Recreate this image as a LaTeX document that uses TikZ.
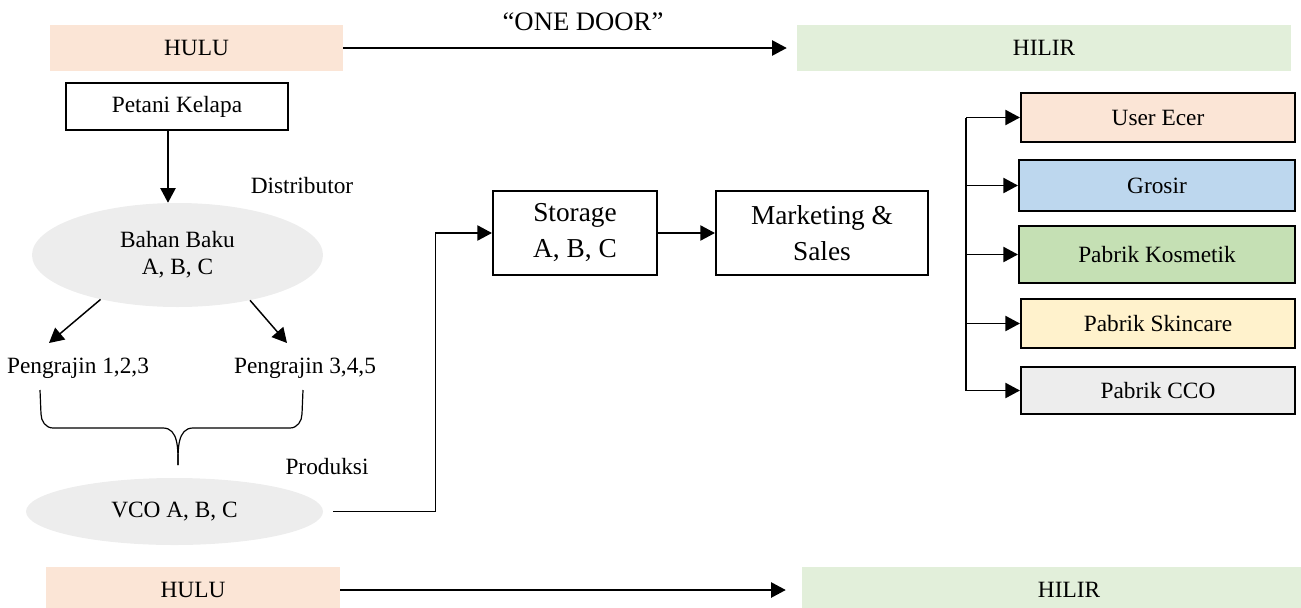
\documentclass[tikz,border=0pt]{standalone}
\usepackage{fontspec}
\setmainfont{Liberation Serif}
\usetikzlibrary{arrows.meta,shapes.geometric}

\definecolor{huluclr}{HTML}{FBE5D6}
\definecolor{hilirclr}{HTML}{E2EFDA}
\definecolor{grosirclr}{HTML}{BDD7EE}
\definecolor{kosmclr}{HTML}{C5E0B4}
\definecolor{skinclr}{HTML}{FFF2CC}
\definecolor{ovalclr}{HTML}{EDEDED}

\begin{document}
\begin{tikzpicture}[x=0.75pt,y=-0.75pt,
  font=\fontsize{17.5}{20}\selectfont,
  band/.style={rectangle,inner sep=0pt,minimum height=34.5pt},
  box/.style={draw,line width=1.6pt,align=center,inner sep=0pt},
  oval/.style={ellipse,fill=ovalclr,align=center,inner sep=0pt},
  bigtxt/.style={font=\fontsize{20.5}{27}\selectfont},
  ln/.style={line width=1.1pt},
  arr/.style={line width=1.1pt,-{Triangle[length=11pt,width=11.5pt]}}]

\useasboundingbox (0,0) rectangle (1301,607);

% bands
\node[band,fill=huluclr,minimum width=219.75pt] (huluA) at (196.5,48) {HULU};
\node[band,fill=hilirclr,minimum width=370.5pt] (hilirA) at (1044,48) {HILIR};
\node[band,fill=huluclr,minimum width=220.5pt] (huluB) at (193,590) {HULU};
\node[band,fill=hilirclr,minimum width=400.5pt] (hilirB) at (1069,590) {HILIR};
\node[font=\fontsize{20}{24}\selectfont] (onedoor) at (583,22) {``ONE DOOR''};

\draw[arr,shorten >=7.5pt] (huluA.east) -- (hilirA.west);
\draw[arr,shorten >=12pt] (huluB.east) -- (hilirB.west);

% hulu side
\node[box,minimum width=166.5pt,minimum height=35.25pt] (petani) at (177,106.5) {Petani Kelapa};
\node (distrib) at (302,186) {Distributor};
\node[oval,minimum width=218.25pt,minimum height=78pt] (bahan) at (177.5,255) {Bahan Baku\\A, B, C};
\node (peng1) at (78,368) {Pengrajin 1,2,3};
\node (peng2) at (305,368) {Pengrajin 3,4,5};
\node (produksi) at (327,467) {Produksi};
\node[oval,minimum width=222.75pt,minimum height=50.25pt] (vco) at (174.5,511.5) {VCO A, B, C};

\coordinate (p1) at (49,343);
\coordinate (p2) at (287,343);

\draw[arr] ([xshift=-6.75pt]petani.south) -- ([xshift=-6.75pt]petani.south |- bahan.north);
\draw[arr] (bahan.210) -- (p1);
\draw[arr] (bahan.328) -- (p2);

% brace
\draw[line width=0.9pt] (40,390) -- (41,414) to[out=-90,in=180] (53,428) -- (163,428)
  to[out=0,in=90] (178,465);
\draw[line width=0.9pt] (178,465) to[out=90,in=180] (193,428) -- (290,428)
  to[out=0,in=-90] (302,414) -- (303,390);

% middle
\node[box,bigtxt,minimum width=123pt,minimum height=63pt] (storage) at (575,233) {Storage\\A, B, C};
\node[box,bigtxt,minimum width=159pt,minimum height=63pt] (market) at (822,233) {Marketing \&\\Sales};

\draw[arr] ([xshift=7.5pt]vco.east) -- ++(102,0) |- (storage.west);
\draw[arr] (storage.east) -- (market.west);

% hilir side
\node[box,fill=huluclr,minimum width=205.5pt,minimum height=36.75pt] (ecer) at (1158,117.5) {User Ecer};
\node[box,fill=grosirclr,minimum width=207pt,minimum height=38.25pt] (grosir) at (1157,185.5) {Grosir};
\node[box,fill=kosmclr,minimum width=207pt,minimum height=42.75pt] (kosmetik) at (1157,254.5) {Pabrik Kosmetik};
\node[box,fill=skinclr,minimum width=205.5pt,minimum height=36.75pt] (skincare) at (1158,323.5) {Pabrik Skincare};
\node[box,fill=ovalclr,minimum width=205.5pt,minimum height=35.25pt] (cco) at (1158,390.5) {Pabrik CCO};

\coordinate (bus) at (966,118);
\draw[ln] (bus |- ecer.west) -- (bus |- cco.west);
\foreach \n in {ecer,grosir,kosmetik,skincare,cco}
  \draw[arr] (bus |- \n.west) -- (\n.west);

\end{tikzpicture}
\end{document}
